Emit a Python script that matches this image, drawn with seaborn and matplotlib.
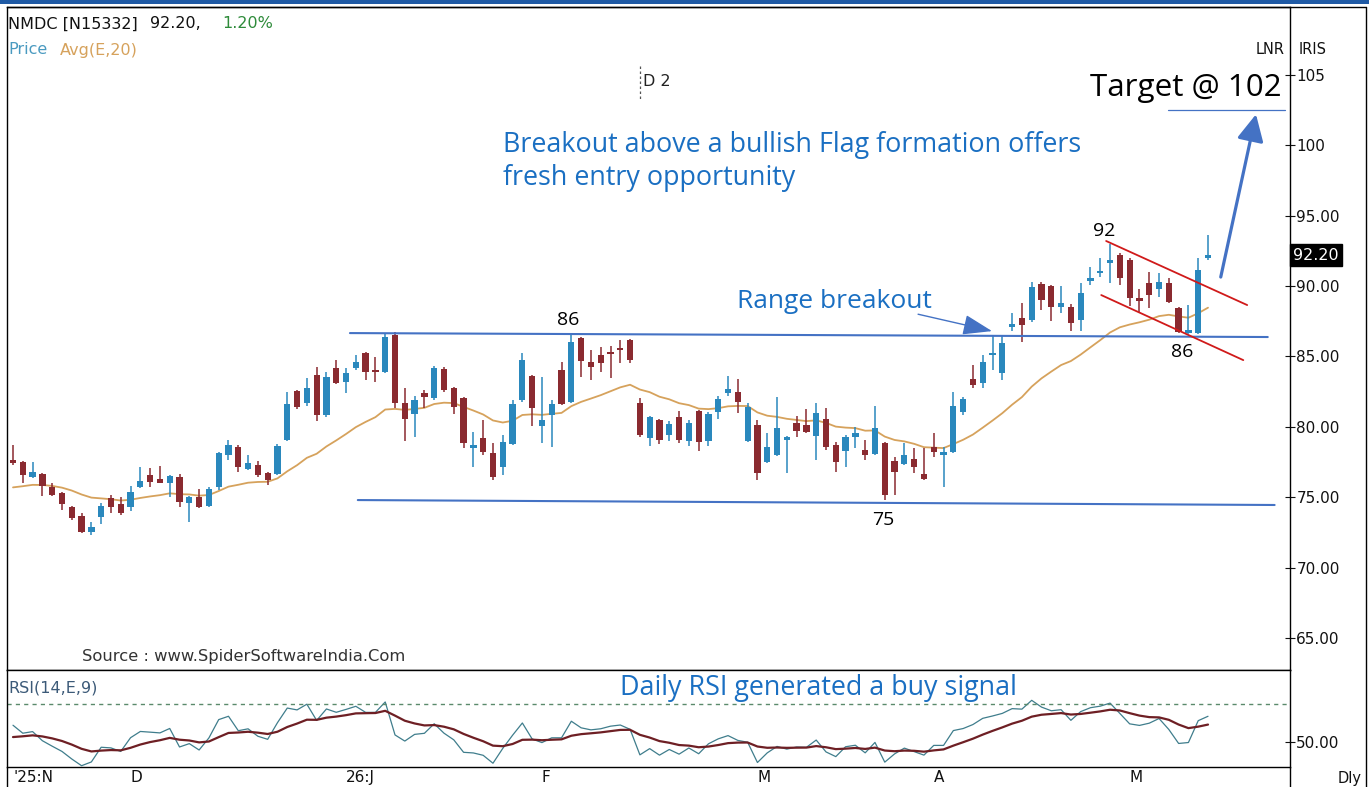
import numpy as np
import pandas as pd
import matplotlib
matplotlib.use("Agg")
import matplotlib.pyplot as plt
import seaborn as sns
from matplotlib.patches import Rectangle
from matplotlib.lines import Line2D
import matplotlib.transforms as mtransforms

# ---------------- data ----------------
opens = [77.64, 77.50, 76.43, 76.65, 75.73, 75.30, 74.30, 73.66, 72.53, 73.59,
         74.94, 74.52, 74.30, 75.73, 76.58, 76.29, 76.01, 76.43, 74.59, 75.01,
         74.38, 75.73, 78.00, 78.57, 77.00, 77.29, 76.72, 76.65, 79.06, 82.54,
         81.69, 83.68, 80.84, 84.18, 83.18, 84.18, 85.24, 84.03, 83.89, 86.52,
         81.69, 80.91, 82.40, 82.05, 84.11, 82.76, 82.05, 78.49, 79.20, 78.14,
         77.15, 78.78, 81.90, 83.61, 80.06, 80.84, 84.03, 81.76, 86.31, 84.60,
         85.10, 85.31, 85.60, 86.16, 81.69, 79.20, 80.48, 79.42, 80.70, 78.99,
         81.12, 78.99, 81.05, 82.40, 82.47, 78.99, 80.13, 77.50, 78.00, 79.06,
         80.27, 80.13, 79.35, 80.55, 78.71, 78.28, 79.28, 78.35, 78.07, 78.85,
         77.57, 77.36, 77.71, 76.65, 78.57, 78.00, 78.21, 81.05, 83.40, 83.11,
         85.10, 83.82, 87.09, 87.73, 87.59, 90.14, 90.00, 88.51, 88.51, 87.59,
         90.36, 90.93, 91.63, 92.20, 91.85, 89.15, 90.21, 89.79, 90.21, 88.44,
         86.66, 86.66, 91.99]
highs = [78.71, 77.55, 77.50, 76.70, 76.01, 75.35, 74.38, 73.88, 73.24, 74.59,
         75.16, 75.00, 75.80, 77.15, 77.07, 77.22, 76.58, 76.65, 75.09, 75.58,
         75.73, 78.21, 79.06, 78.71, 78.00, 77.57, 76.79, 78.78, 82.47, 82.61,
         83.47, 84.25, 83.89, 84.74, 84.18, 85.10, 85.31, 84.96, 86.66, 86.73,
         82.76, 82.19, 82.61, 84.32, 84.25, 82.83, 82.12, 79.63, 80.48, 78.85,
         79.42, 81.90, 85.24, 83.68, 83.54, 81.90, 84.60, 86.52, 86.38, 85.45,
         85.67, 85.74, 86.16, 86.23, 82.05, 80.77, 80.55, 80.41, 81.12, 80.48,
         81.19, 81.05, 82.19, 83.61, 83.40, 81.69, 80.48, 79.56, 82.12, 79.35,
         80.77, 81.27, 81.69, 81.34, 78.92, 79.42, 79.99, 79.06, 81.48, 78.92,
         77.86, 78.85, 78.49, 78.49, 79.56, 78.57, 82.47, 82.12, 84.39, 85.10,
         86.45, 86.52, 88.08, 88.79, 90.28, 90.28, 90.07, 90.00, 88.72, 90.21,
         91.35, 91.99, 92.98, 92.34, 91.99, 89.79, 91.00, 90.93, 90.57, 88.51,
         88.65, 91.99, 93.62]
lows = [77.30, 76.01, 76.40, 75.09, 75.10, 74.09, 73.40, 72.46, 72.32, 73.10,
        73.88, 73.75, 74.02, 75.65, 75.73, 75.98, 75.01, 74.30, 73.24, 74.23,
        74.30, 75.51, 77.64, 76.79, 76.93, 76.43, 75.87, 76.58, 78.99, 81.27,
        81.48, 80.41, 80.70, 83.04, 82.40, 84.03, 83.32, 83.18, 83.82, 81.34,
        78.99, 79.28, 81.34, 81.90, 82.47, 80.91, 78.49, 77.15, 78.00, 76.22,
        76.58, 78.71, 81.76, 80.06, 78.85, 78.57, 81.55, 81.69, 83.54, 83.32,
        83.89, 83.47, 84.53, 84.53, 79.28, 78.64, 78.78, 78.99, 78.85, 78.64,
        78.28, 78.64, 80.55, 82.19, 80.98, 78.92, 76.22, 77.43, 77.93, 76.72,
        79.28, 79.56, 77.64, 78.35, 76.79, 77.15, 78.49, 77.64, 78.00, 74.80,
        75.16, 77.29, 76.72, 76.22, 77.86, 75.73, 78.14, 80.84, 82.76, 82.76,
        84.03, 83.32, 86.80, 86.02, 87.44, 88.30, 87.52, 88.08, 86.80, 86.80,
        90.07, 90.64, 90.21, 90.07, 88.58, 88.15, 88.44, 89.22, 88.79, 86.66,
        86.60, 86.60, 91.85]
closes = [77.43, 76.58, 76.79, 75.80, 75.16, 74.52, 73.52, 72.53, 72.88, 74.38,
          74.30, 73.88, 75.37, 76.15, 76.08, 76.01, 76.51, 74.66, 75.01, 74.30,
          75.58, 78.14, 78.71, 77.15, 77.43, 76.58, 76.22, 78.64, 81.62, 81.41,
          82.76, 80.84, 83.54, 83.11, 83.82, 84.60, 83.89, 83.89, 86.38, 81.69,
          80.55, 81.90, 82.12, 84.18, 82.61, 81.41, 78.85, 78.71, 78.21, 76.43,
          78.92, 81.62, 84.74, 81.34, 80.48, 81.62, 81.62, 86.02, 84.67, 84.25,
          84.53, 85.17, 85.45, 84.74, 79.42, 80.70, 79.06, 80.20, 79.06, 80.27,
          78.92, 80.91, 81.98, 82.69, 81.76, 81.41, 76.72, 78.57, 79.91, 79.28,
          79.70, 79.63, 80.98, 78.57, 77.50, 79.28, 79.56, 78.00, 79.91, 75.16,
          76.79, 78.00, 77.15, 76.29, 78.21, 78.21, 81.48, 81.98, 82.97, 84.60,
          85.24, 85.95, 87.30, 87.23, 89.93, 89.01, 88.51, 88.79, 87.37, 89.50,
          90.57, 91.00, 91.85, 90.57, 89.15, 88.93, 89.36, 90.28, 88.86, 86.73,
          86.88, 91.11, 92.20]

month_ticks = [0, 12, 34, 54, 76, 94, 114]
month_labels = ["'25:N", "D", "26:J", "F", "M", "A", "M"]
price_ticks = [65, 70, 75, 80, 85, 90, 95, 100, 105]
price_tick_labels = ["65.00", "70.00", "75.00", "80.00", "85.00", "90.00", "95.00", "100", "105"]

ema_seed = 75.7          # value of Avg(E,20) at the first visible bar
rsi_gain_seed = 0.50     # Wilder average gain / loss before first visible bar
rsi_loss_seed = 0.35
rsi_signal_seed = 52.6

# ---------------- derived indicators ----------------
df = pd.DataFrame({"open": opens, "high": highs, "low": lows, "close": closes})
df["i"] = np.arange(len(df))
ema = [ema_seed]
a = 2.0 / 21.0
for c in df["close"].values[1:]:
    ema.append(ema[-1] + a * (c - ema[-1]))
df["ema"] = ema

ag, al = rsi_gain_seed, rsi_loss_seed
rsi = [100 - 100 / (1 + ag / al)]
cl = df["close"].values
for k in range(1, len(cl)):
    d = cl[k] - cl[k - 1]
    ag = (ag * 13 + max(d, 0)) / 14
    al = (al * 13 + max(-d, 0)) / 14
    rsi.append(100 - 100 / (1 + ag / al))
df["rsi"] = rsi
sig = [rsi_signal_seed]
b = 2.0 / 10.0
for r in rsi[1:]:
    sig.append(sig[-1] + b * (r - sig[-1]))
df["sig"] = sig

# ---------------- figure ----------------
sns.set_style("white")
plt.rcParams["font.family"] = ["DejaVu Sans"]
W, H = 1369, 787
fig = plt.figure(figsize=(W / 100, H / 100), dpi=100)
fig.patch.set_facecolor("white")

def fx(x):
    return x / W

def fy(y):
    return 1 - y / H

ax = fig.add_axes([fx(7), fy(670), (1290 - 7) / W, (670 - 7) / H])
ax2 = fig.add_axes([fx(7), fy(767), (1290 - 7) / W, (767 - 670) / H], sharex=ax)

UP = "#2a88bd"
DN = "#8a2a30"
cols = [UP if c >= o else DN for o, c in zip(df["open"], df["close"])]

ax.vlines(df["i"], df["low"], df["high"], colors=cols, lw=1.1, zorder=3)
body_lo = np.minimum(df["open"], df["close"])
body_h = np.maximum(np.abs(df["close"] - df["open"]), 0.12)
ax.bar(df["i"], body_h, bottom=body_lo, width=0.64, color=cols, lw=0, zorder=4)

sns.lineplot(data=df, x="i", y="ema", ax=ax, color="#d6a25c", lw=1.3, zorder=2, legend=False)

ax.set_xlim(-0.613, 130.37)
ax.set_ylim(62.73, 109.82)
ax.set_xlabel("")
ax.set_ylabel("")
ax.yaxis.tick_right()
ax.set_yticks(price_ticks)
ax.set_yticklabels(price_tick_labels)
ax.tick_params(axis="y", direction="inout", length=7, width=0.8, pad=1,
               labelsize=11, colors="#111111", right=True, left=False)
ax.tick_params(axis="x", bottom=False, labelbottom=False)
for s in ax.spines.values():
    s.set_color("black")
    s.set_linewidth(1.0)

# trend lines / annotations (data coordinates)
blue = "#4472c4"
ax.plot([34.4, 128.1], [86.66, 86.38], color=blue, lw=1.5, zorder=5)
ax.plot([35.2, 128.8], [74.80, 74.45], color=blue, lw=1.5, zorder=5)
ax.plot([111.6, 126.0], [93.20, 88.65], color="#d01a1a", lw=1.3, zorder=5)
ax.plot([111.1, 125.6], [89.36, 84.74], color="#d01a1a", lw=1.3, zorder=5)
ax.plot([117.9, 129.9], [102.5, 102.5], color=blue, lw=0.9, zorder=5)
ax.annotate("", xy=(126.9, 102.2), xytext=(123.3, 90.64),
            arrowprops=dict(arrowstyle="-|>,head_length=0.9,head_width=0.45",
                            lw=2.3, color=blue, mutation_scale=18, shrinkA=0, shrinkB=0), zorder=6)
ax.annotate("", xy=(99.95, 86.8), xytext=(92.4, 88.0),
            arrowprops=dict(arrowstyle="-|>,head_length=1.3,head_width=0.45",
                            lw=1.0, color=blue, mutation_scale=14, shrinkA=0, shrinkB=0), zorder=6)

# last price box
trans = mtransforms.blended_transform_factory(ax.transAxes, ax.transData)
ax.text(1.0025, closes[-1], "%.2f" % closes[-1], transform=trans, ha="left", va="center",
        fontsize=11.5, color="white", zorder=10,
        bbox=dict(boxstyle="square,pad=0.22", fc="black", ec="black"))

# RSI panel
sns.lineplot(data=df, x="i", y="rsi", ax=ax2, color="#3f7d8c", lw=0.9, legend=False)
sns.lineplot(data=df, x="i", y="sig", ax=ax2, color="#6e1f24", lw=1.6, legend=False)
ax2.axhline(70, color="#5b8a6b", lw=1.0, ls=(0, (3, 3)))
ax2.set_ylim(36.84, 87.9)
ax2.set_xlabel("")
ax2.set_ylabel("")
ax2.yaxis.tick_right()
ax2.set_yticks([50])
ax2.set_yticklabels(["50.00"])
ax2.tick_params(axis="y", direction="inout", length=7, width=0.8, pad=1,
                labelsize=11, colors="#111111", right=True, left=False)
ax2.set_xticks(month_ticks)
ax2.set_xticklabels(month_labels, ha="left")
ax2.tick_params(axis="x", length=0, pad=2, labelsize=11, colors="#111111", bottom=True)
for s in ax2.spines.values():
    s.set_color("black")
    s.set_linewidth(1.0)

# ---------------- figure decorations ----------------
fig.add_artist(Rectangle((0, fy(4)), 1, 4 / H, transform=fig.transFigure,
                         color="#1f5aa5", lw=0))
fig.add_artist(Line2D([fx(7), fx(1366)], [fy(7), fy(7)], transform=fig.transFigure, color="black", lw=1.0))
fig.add_artist(Line2D([fx(1366), fx(1366)], [fy(7), 0], transform=fig.transFigure, color="black", lw=1.0))
fig.add_artist(Line2D([fx(1290), fx(1290)], [fy(767), 0], transform=fig.transFigure, color="black", lw=1.0))
fig.add_artist(Line2D([fx(7), fx(7)], [fy(767), 0], transform=fig.transFigure, color="black", lw=1.0))
fig.add_artist(Line2D([fx(640), fx(640)], [fy(66), fy(100)], transform=fig.transFigure,
                      color="#555555", lw=0.9, ls=(0, (2, 2))))

hdr = dict(fontsize=11.5, va="center", family=["DejaVu Sans"])
fig.text(fx(8), fy(24), "NMDC [N15332]", color="#111111", **hdr)
fig.text(fx(150), fy(24), "92.20,", color="#111111", **hdr)
fig.text(fx(222), fy(24), "1.20%", color="#2e8b3a", **hdr)
fig.text(fx(8), fy(50), "Price", color="#4a9ac0", **hdr)
fig.text(fx(60), fy(50), "Avg(E,20)", color="#d6a25c", **hdr)
fig.text(fx(643), fy(82), "D 2", color="#222222", **hdr)
fig.text(fx(1256), fy(50), "LNR", color="#111111", fontsize=10.5, va="center")
fig.text(fx(1299), fy(50), "IRIS", color="#111111", fontsize=10.5, va="center")
fig.text(fx(82), fy(656), "Source : www.SpiderSoftwareIndia.Com", color="#333333",
         fontsize=11.8, va="center", family=["DejaVu Sans"])
fig.text(fx(8), fy(688), "RSI(14,E,9)", color="#3c5a78", **hdr)
fig.text(fx(1338), fy(779), "Dly", color="#111111", fontsize=10.5, va="center")

ann = ["Open Sans", "DejaVu Sans"]
acol = "#1a6fc2"
fs = 19.4
fig.text(fx(503), fy(145), "Breakout above a bullish Flag formation offers", color=acol,
         fontsize=fs, va="center", family=ann)
fig.text(fx(503), fy(178), "fresh entry opportunity", color=acol, fontsize=fs, va="center", family=ann)
fig.text(fx(1282), fy(88), "Target @ 102", color="black", fontsize=22.6, va="center", ha="right", family=ann)
fig.text(fx(737), fy(302), "Range breakout", color=acol, fontsize=fs - 0.4, va="center", family=ann)
fig.text(fx(620), fy(688), "Daily RSI generated a buy signal", color=acol, fontsize=fs, va="center", family=ann)
for (x, y, t) in [(1104, 231, "92"), (568, 320, "86"), (883, 520, "75"), (1182, 352, "86")]:
    fig.text(fx(x), fy(y), t, color="black", fontsize=14, va="center", ha="center", family=ann)

fig.savefig("out.png", dpi=100, facecolor="white")
